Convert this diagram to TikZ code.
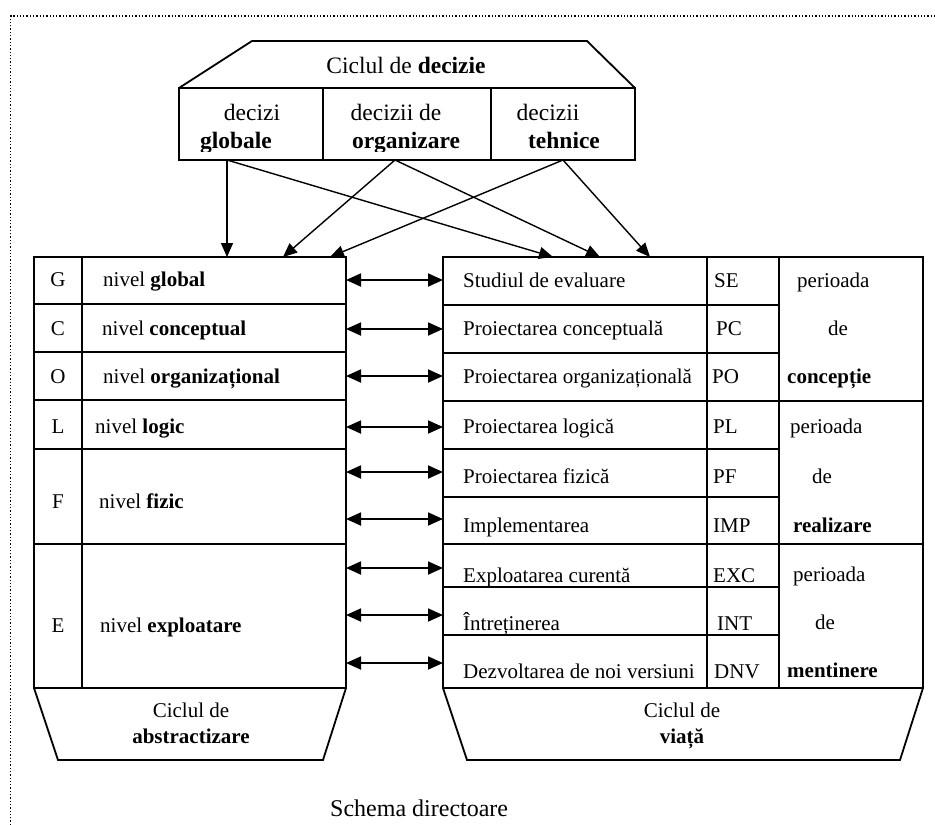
\documentclass[tikz,border=0pt]{standalone}
\usepackage{fontspec}
\setmainfont{Liberation Serif}
\usetikzlibrary{arrows.meta}
\begin{document}
\begin{tikzpicture}[x=1pt,y=-1pt,
  frame/.style={line width=1.8pt, line join=miter},
  conn/.style={line width=1.4pt,-{Triangle[length=14pt,width=12pt]}},
  twoway/.style={line width=1.8pt,{Triangle[length=15pt,width=13pt]}-{Triangle[length=15pt,width=13pt]}},
  txt/.style={inner sep=0pt, anchor=base west, font=\fontsize{21}{24}\selectfont},
  ctxt/.style={inner sep=0pt, anchor=base, font=\fontsize{21}{24}\selectfont},
  big/.style={inner sep=0pt, anchor=base, font=\fontsize{23.5}{27}\selectfont},
]
\useasboundingbox (0,0) rectangle (935,825);

% dotted frame of the page
\draw[dotted, line width=1.3pt] (10.5,825) -- (10.5,16) -- (935,16);

% ---- decision cycle (top)
\draw[frame] (179,88) -- (252,41) -- (587,41) -- (635,88);
\draw[frame] (179,88) rectangle (635,160);
\draw[frame] (323,88) -- (323,160);
\draw[frame] (491,88) -- (491,160);
\node[big] (dtitle) at (406,73) {Ciclul de \textbf{decizie}};
\begin{scope}
  \clip (179,88) rectangle (635,151);
  \node[big] (dg1) at (252,120) {decizi};
  \node[big] (dg2) at (236,148) {\textbf{globale}};
  \node[big] (do1) at (396,120) {decizii de};
  \node[big] (do2) at (406,148) {\textbf{organizare}};
  \node[big] (dt1) at (548,120) {decizii};
  \node[big] (dt2) at (564,148) {\textbf{tehnice}};
\end{scope}

% ---- abstraction cycle (left table)
\draw[frame] (34,257) rectangle (346,688);
\draw[frame] (82,257) -- (82,688);
\foreach \y in {304,352,400,449,544} \draw[frame] (34,\y) -- (346,\y);
\foreach \n/\l/\t/\x/\y in {
  G/G/nivel \textbf{global}/103/286,
  C/C/nivel \textbf{conceptual}/102/335,
  O/O/nivel \textbf{organizațional}/103/383,
  L/L/nivel \textbf{logic}/95/433,
  F/F/nivel \textbf{fizic}/99/508,
  E/E/nivel \textbf{exploatare}/100/632}{
  \node[ctxt] (k\n) at (58,\y) {\l};
  \node[txt] (n\n) at (\x,\y) {\t};
}
\draw[frame] (34,688) -- (58,760) -- (323,760) -- (346,688);
\node[ctxt] (ca1) at (191,717) {Ciclul de};
\node[ctxt] (ca2) at (191,743) {\textbf{abstractizare}};

% ---- life cycle (right table)
\draw[frame] (443,257) rectangle (923,688);
\draw[frame] (707,257) -- (707,688);
\draw[frame] (779,257) -- (779,688);
\foreach \y in {401,544} \draw[frame] (443,\y) -- (923,\y);
\foreach \y in {305,353,449,497,587,635} \draw[frame] (443,\y) -- (779,\y);
\foreach \n/\t/\a/\ax/\y in {
  1/Studiul de evaluare/SE/714/287,
  2/Proiectarea conceptuală/PC/716/335,
  3/Proiectarea organizațională/PO/712/383,
  4/Proiectarea logică/PL/713/433,
  5/Proiectarea fizică/PF/713/483,
  6/Implementarea/IMP/713/532,
  7/Exploatarea curentă/EXC/713/582,
  8/Întreținerea/INT/717/630,
  9/Dezvoltarea de noi versiuni/DNV/714/678}{
  \node[txt] (s\n) at (463,\y) {\t};
  \node[txt] (a\n) at (\ax,\y) {\a};
}
\foreach \n/\t/\x/\y in {
  1/perioada/797/287, 2/de/828/335, 3/\textbf{concepție}/787/383,
  4/perioada/790/433, 5/de/812/483, 6/\textbf{realizare}/793/532,
  7/perioada/793/581, 8/de/815/629, 9/\textbf{mentinere}/787/677}{
  \node[txt] (p\n) at (\x,\y) {\t};
}
\draw[frame] (443,688) -- (467,760) -- (900,760) -- (923,688);
\node[ctxt] (cv1) at (682,717) {Ciclul de};
\node[ctxt] (cv2) at (682,743) {\textbf{viață}};

\node[inner sep=0pt, anchor=base west, font=\fontsize{24}{28}\selectfont]
  (schema) at (330,816) {Schema directoare};

% ---- decision arrows
\coordinate (gb) at (227,160);
\coordinate (ob) at (395,160);
\coordinate (tb) at (563,160);
\coordinate (l1) at (227,257);
\coordinate (l2) at (283,257);
\coordinate (l3) at (330,257);
\coordinate (r1) at (553,257);
\coordinate (r2) at (600,257);
\coordinate (r3) at (650,257);
\draw[conn] (gb) -- (l1);
\draw[conn] (gb) -- (r1);
\draw[conn] (ob) -- (l2);
\draw[conn] (ob) -- (r2);
\draw[conn] (tb) -- (l3);
\draw[conn] (tb) -- (r3);

% ---- correspondence arrows between the two cycles
\foreach \i/\y in {1/280,2/329,3/376,4/427,5/472,6/519,7/568,8/615,9/663}{
  \coordinate (la\i) at (346,\y);
  \coordinate (ra\i) at (443,\y);
  \draw[twoway] (la\i) -- (ra\i);
}
\end{tikzpicture}
\end{document}
